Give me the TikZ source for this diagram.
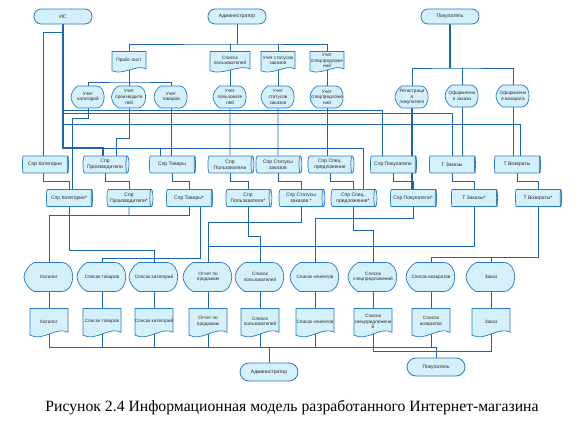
\documentclass[tikz,border=0pt]{standalone}
\usepackage{fontspec}
\setmainfont{Liberation Serif}
\newfontfamily\dsans{Liberation Sans}
\usetikzlibrary{shapes.geometric}

\definecolor{bordc}{RGB}{40,120,200}
\definecolor{fillc}{RGB}{212,240,251}
\definecolor{linec}{RGB}{25,100,185}
\definecolor{textc}{RGB}{40,40,40}

\pgfdeclarelayer{lines}
\pgfdeclarelayer{shapes}
\pgfsetlayers{lines,shapes,main}

% document with wavy bottom: name, position, width, height, text
\newcommand\docnode[5]{%
  \begin{pgfonlayer}{shapes}
    \filldraw[shapeline,shift={(#2)}] (-#3/2,-#4/2) -- (#3/2,-#4/2) -- (#3/2,0.32*#4)
      .. controls (0.2*#3,0.1*#4) and (-0.15*#3,0.65*#4) .. (-#3/2,0.42*#4) -- cycle;
  \end{pgfonlayer}
  \node[txt,yshift=1.5pt] (#1) at (#2) {#5};}

% display shape: name, position, width, height, text
\newcommand\dispnode[5]{%
  \begin{pgfonlayer}{shapes}
    \filldraw[shapeline,shift={(#2)}] (-0.3*#3,-#4/2) -- (0.25*#3,-#4/2)
      .. controls (0.55*#3,-#4/2) and (0.55*#3,#4/2) .. (0.25*#3,#4/2) -- (-0.3*#3,#4/2)
      .. controls (-0.42*#3,0.4*#4) and (-#3/2,0.15*#4) .. (-#3/2,0)
      .. controls (-#3/2,-0.15*#4) and (-0.42*#3,-0.4*#4) .. cycle;
  \end{pgfonlayer}
  \node[txt] (#1) at (#2) {#5};}

\begin{document}
\begin{tikzpicture}[x=1pt,y=-1pt,
    txt/.style={font=\dsans\fontsize{4.7}{5.6}\selectfont, align=center, inner sep=0pt, text=textc},
    shapeline/.style={draw=bordc, fill=fillc, line width=0.7pt},
    term/.style={txt, font=\dsans\fontsize{5}{6}\selectfont, draw=bordc, fill=fillc,
      line width=0.8pt, rounded corners=7pt, minimum width=58pt, minimum height=15pt},
    cyl/.style={txt, font=\dsans\fontsize{5}{6}\selectfont, cylinder, shape border rotate=0,
      aspect=0.3, draw=bordc, line width=0.7pt,
      cylinder uses custom fill, cylinder body fill=fillc, cylinder end fill=fillc,
      minimum height=46pt, minimum width=17pt, inner xsep=1pt},
    flow/.style={draw=linec, line width=0.9pt},
    flowthick/.style={draw=linec, line width=1.7pt}]
  \useasboundingbox (0,0) rectangle (581,432);

  % terminals
  \node[term] (is) at (63,16.5) {ИС};
  \node[term] (admin) at (237,16.5) {Администратор};
  \node[term] (buyer) at (450,16.5) {Покупатель};
  \node[term,minimum height=18pt,rounded corners=9pt] (admin2) at (269,372) {Администратор};
  \node[term,minimum height=18pt,rounded corners=9pt] (buyer2) at (436,367) {Покупатель};

  % input documents
  \docnode{dprice}{129,62}{34}{21}{Прайс-лист}
  \docnode{dusers}{230,62}{40}{21}{Список\\пользователей}
  \docnode{dstat}{278,62}{34}{21}{Учет статусов\\заказов}
  \docnode{dspec}{327,62}{34}{21}{Учет\\спецпредложе\\ний}

  % processes
  \dispnode{pcat}{88,97}{34}{22}{Учет\\категорий}
  \dispnode{pmanuf}{129,97}{35}{22}{Учет\\производите\\лей}
  \dispnode{pgoods}{171,97}{34}{22}{Учет\\товаров}
  \dispnode{pusers}{230,97}{34}{22}{Учет\\пользовате\\лей}
  \dispnode{pstat}{278,97}{34}{22}{Учет\\статусов\\заказов}
  \dispnode{pspec}{327,97}{34}{22}{Учет\\спецпредложе\\ний}
  \dispnode{preg}{412,97}{34}{22}{Регистраци\\я\\покупателя}
  \dispnode{porder}{462,96}{34}{22}{Оформлени\\е заказа}
  \dispnode{pret}{513,96}{34}{22}{Оформлени\\е возврата}

  % directories, first row
  \node[cyl] (ccat) at (45,164.5) {Спр Категории};
  \node[cyl] (cmanuf) at (105,164.5) {Спр\\Производители};
  \node[cyl] (cgoods) at (172,164.5) {Спр Товары};
  \node[cyl] (cusers) at (230,164.5) {Спр\\Пользователи};
  \node[cyl] (cstat) at (278,164.5) {Спр Статусы\\заказов};
  \node[cyl] (cspec) at (330,164.5) {Спр Спец.\\предложения};
  \node[cyl] (cbuy) at (393,164.5) {Спр Покупатели};
  \node[cyl] (corder) at (452,164.5) {Т Заказы};
  \node[cyl] (cret) at (517,164.5) {Т Возвраты};

  % directories, second row
  \node[cyl] (ccat2) at (69,198) {Спр Категории*};
  \node[cyl] (cmanuf2) at (129,198) {Спр\\Производители*};
  \node[cyl] (cgoods2) at (189,198) {Спр Товары*};
  \node[cyl] (cusers2) at (248,198) {Спр\\Пользователи*};
  \node[cyl] (cstat2) at (301,198) {Спр Статусы\\заказов *};
  \node[cyl] (cspec2) at (353,198) {Спр Спец.\\предложения*};
  \node[cyl] (cbuy2) at (413,198) {Спр Покупатели*};
  \node[cyl] (corder2) at (474,198) {Т Заказы*};
  \node[cyl] (cret2) at (538,198) {Т Возвраты*};

  % output screens
  \dispnode{vcat}{49,277}{50}{29}{Каталог}
  \dispnode{vgoods}{102,277}{50}{29}{Список товаров}
  \dispnode{vcats}{154,277}{50}{29}{Список категорий}
  \dispnode{vsales}{208,277}{50}{29}{Отчет по\\продажам}
  \dispnode{vusers}{260,277}{50}{29}{Список\\пользователей}
  \dispnode{vclients}{315,277}{50}{29}{Список клиентов}
  \dispnode{vspec}{373,277}{50}{29}{Список\\спецпредложений}
  \dispnode{vret}{431,277}{50}{29}{Список возвратов}
  \dispnode{vorder}{491,277}{50}{29}{Заказ}

  % output documents
  \docnode{rcat}{49,323}{38}{29}{Каталог}
  \docnode{rgoods}{102,323}{38}{29}{Список товаров}
  \docnode{rcats}{154,323}{38}{29}{Список категорий}
  \docnode{rsales}{208,323}{38}{29}{Отчет по\\продажам}
  \docnode{rusers}{260,323}{38}{29}{Список\\пользователей}
  \docnode{rclients}{315,323}{38}{29}{Список клиентов}
  \docnode{rspec}{373,323}{38}{29}{Список\\спецпредложени\\й}
  \docnode{rret}{431,323}{38}{29}{Список\\возвратов}
  \docnode{rorder}{491,323}{38}{29}{Заказ}

  \node[font=\fontsize{15.7}{18}\selectfont] (caption) at (292,408)
    {Рисунок 2.4 Информационная модель разработанного Интернет-магазина};

  \begin{pgfonlayer}{lines}
    % administrator and price list
    \draw[flow] (admin) -- (237,44);
    \draw[flow] (dprice) |- (237,44) -| (dspec);
    \draw[flow] (dusers) -- (230,44);
    \draw[flow] (dstat) -- (278,44);
    \draw[flow] (pcat) |- (129,82) -| (pgoods);
    \draw[flow] (dprice) -- (pmanuf);
    \draw[flow] (dusers) -- (pusers);
    \draw[flow] (dstat) -- (pstat);
    \draw[flow] (dspec) -- (pspec);
    % buyer
    \draw[flowthick] (buyer) -- (450,68);
    \draw[flow] (preg) |- (450,68) -| (pret);
    \draw[flow] (porder) -- (462,68);
    % processes to directories
    \draw[flow] (pcat) |- (72,118) -- (72,195);
    \draw[flow] (pmanuf) |- (116,138) -- (116,160);
    \draw[flow] (pgoods) -- (171,160);
    \draw[flow] (pusers) -- (cusers);
    \draw[flow] (pstat) -- (cstat);
    \draw[flow] (pspec) -- (327,160);
    \draw[flowthick] (preg) -- (412,195);
    \draw[flow] (porder) -- (462,160);
    \draw[flow] (pret) -- (513,160);
    % IS
    \draw[flowthick] (is) -- (63,148) -| (103,160);
    \draw[flow] (63,32) -| (43,181) -| (ccat2);
    \draw[flow] (63,148) -- (363,148) -- (363,195);
    \draw[flow] (160,148) -- (160,160);
    \draw[flow] (63,110) -- (382,110) -- (382,160);
    \draw[flow] (63,113) -- (452,113) -- (452,160);
    \draw[flow] (63,124) -- (520,124) -- (520,160);
    % first row to second row
    \foreach \a/\b in {cmanuf/cmanuf2,cgoods/cgoods2,cusers/cusers2,cstat/cstat2,
        cspec/cspec2,cbuy/cbuy2,corder/corder2,cret/cret2}
      \draw[flow] (\a.south) -- ++(0,8) -| (\b);
    % directories to screens
    \draw[flow] (ccat2) |- (154,250) -- (vcats);
    \draw[flow] (cgoods2) |- (49,215) -- (vcat);
    \draw[flow] (cmanuf2) -- (129,215);
    \draw[flow] (200,200) -- (200,258) -| (vgoods);
    \draw[flow] (cstat2) |- (208,222) -- (vsales);
    \draw[flow] (corder2) |- (208,246);
    \draw[flow] (cusers2) |- (260,236) -- (vusers);
    \draw[flow] (cbuy2) |- (315,218) -- (vclients);
    \draw[flow] (cspec2) |- (373,230) -- (vspec);
    \draw[flow] (cret2) |- (431,257) -- (vret);
    \draw[flow] (491,257) -- (vorder);
    % screens to documents
    \foreach \a/\b in {vcat/rcat,vgoods/rgoods,vcats/rcats,vsales/rsales,vusers/rusers,
        vclients/rclients,vspec/rspec,vret/rret,vorder/rorder}
      \draw[flow] (\a) -- (\b);
    % documents to users
    \coordinate (abus) at (0,347);
    \coordinate (bbus) at (0,351);
    \draw[flow] (rcat) |- (buyer2 |- abus) -- (buyer2);
    \foreach \d in {rgoods,rcats,rsales,rusers,rclients,rret}
      \draw[flow] (\d) -- (\d |- abus);
    \draw[flow] (admin2) -- (admin2 |- abus);
    \draw[flow] (rspec) |- (rorder |- bbus) -- (rorder);
  \end{pgfonlayer}
\end{tikzpicture}
\end{document}
